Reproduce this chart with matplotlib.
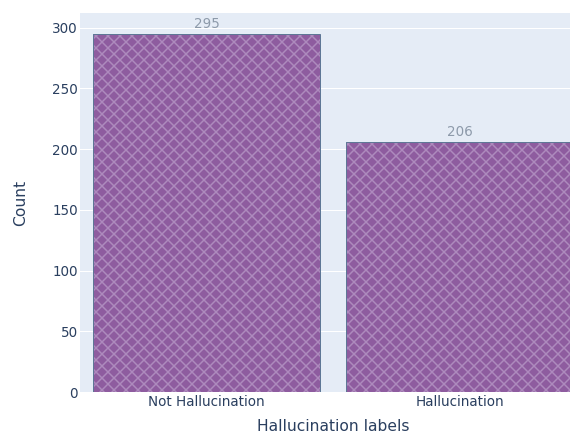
import matplotlib.pyplot as plt
import numpy as np

labels = ["Not Hallucination", "Hallucination"]
counts = [295, 206]

plt.rcParams['font.family'] = ['DejaVu Sans']
plt.rcParams['hatch.linewidth'] = 1.5

# dpi 72 keeps font sizes in points equal to pixels
fig = plt.figure(figsize=(570 / 72, 434 / 72), dpi=72)
ax = fig.add_axes([80 / 570, 42 / 434, 506 / 570, 379 / 434])
ax.set_facecolor('#E5ECF6')

x = np.arange(len(labels))
# fill + hatch first (hatch takes the edge colour), then the outline on top
ax.bar(x, counts, width=0.9, color='#8e5c9f', edgecolor='#ad8abd',
       linewidth=0, hatch='xx', zorder=3)
bars = ax.bar(x, counts, width=0.9, fill=False, edgecolor='#5e7796',
              linewidth=1.0, zorder=4)
for b, v in zip(bars, counts):
    ax.text(b.get_x() + b.get_width() / 2, v + 2, str(v), ha='center', va='bottom',
            fontsize=13.5, color='#8d9aaa', zorder=5)

ax.set_xlim(-0.5, 1.5)
ax.set_ylim(0, 312)
ax.set_yticks([0, 50, 100, 150, 200, 250, 300])
ax.set_xticks(x)
ax.set_xticklabels(labels)
ax.grid(axis='y', color='white', linewidth=1, zorder=0)
ax.set_axisbelow(True)
for s in ax.spines.values():
    s.set_visible(False)
ax.tick_params(axis='y', length=0, labelsize=13.5, labelcolor='#2a3f5f', pad=2)
ax.tick_params(axis='x', length=0, labelsize=13.5, labelcolor='#2a3f5f', pad=3)
ax.set_xlabel('Hallucination labels', fontsize=15.5, color='#2a3f5f', labelpad=10)
ax.set_ylabel('Count', fontsize=15.5, color='#2a3f5f', labelpad=24)

fig.savefig('out.png', dpi=72)
